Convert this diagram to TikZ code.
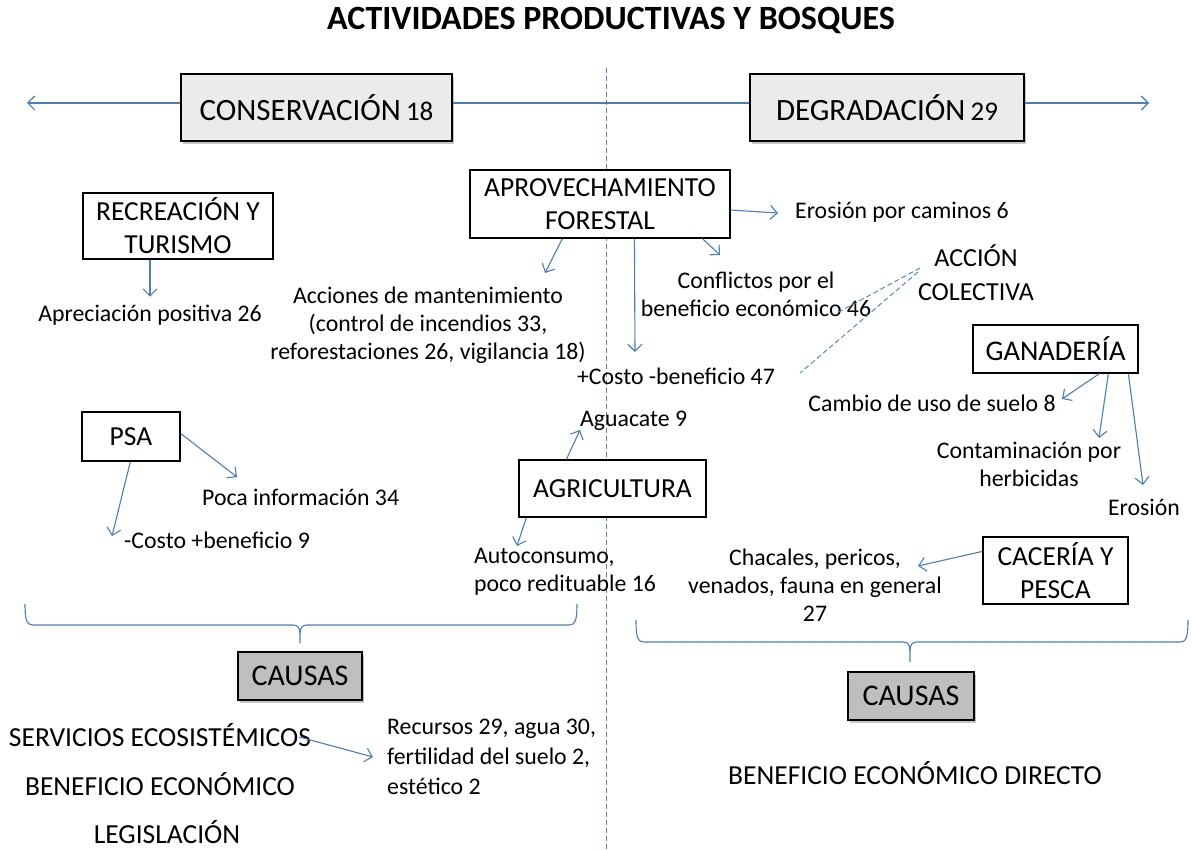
\documentclass[tikz,border=0pt]{standalone}
\usepackage{fontspec}
\setmainfont{Carlito}
\usetikzlibrary{arrows.meta,shadows,calc}
\definecolor{lblue}{HTML}{4A7EBB}
\definecolor{lgray}{HTML}{EBEBEB}
\definecolor{cgray}{HTML}{BFBFBF}
\newcommand\fbig{\fontsize{27.5}{33}\selectfont}
\newcommand\fsmall{\fontsize{23.8}{28}\selectfont}
\newcommand\fcaus{\fontsize{27.5}{30}\selectfont}
\tikzset{
  box/.style={draw=black, line width=1.2pt, fill=white, inner sep=2pt, align=center, font=\fbig},
  topbox/.style={box, fill=lgray, font=\fontsize{31}{34}\selectfont, drop shadow={shadow xshift=2pt, shadow yshift=-3pt, opacity=0.45}},
  causebox/.style={box, fill=cgray, font=\fontsize{30}{34}\selectfont, drop shadow={shadow xshift=2pt, shadow yshift=-3pt, opacity=0.45}},
  lbl/.style={align=center, font=\fsmall, inner sep=0pt},
  arr/.style={draw=lblue, line width=1.1pt, -{Straight Barb[length=7pt,width=14pt,line width=1.1pt]}},
  conn/.style={draw=lblue, line width=1.1pt},
  dconn/.style={draw=lblue, line width=0.9pt, dash pattern=on 5pt off 3pt},
}
\begin{document}
\begin{tikzpicture}[x=1pt,y=-1pt]
\useasboundingbox (0,0) rectangle (1192,850);
\fill[white] (0,0) rectangle (1192,850);
% vertical dashed separator
\coordinate (vtop) at (606,68);
\coordinate (vbot) at (606,850);
\draw[dconn, line width=0.8pt] (vtop) -- (vbot);
% title
\node[font=\bfseries\fontsize{34}{38}\selectfont, inner sep=0pt] (title) at (611,20) {ACTIVIDADES PRODUCTIVAS Y BOSQUES};
% top axis
\node[topbox, minimum width=271pt, minimum height=67pt] (cons) at (316.5,107.5) {CONSERVACIÓN\,{\fontsize{27}{30}\selectfont 18}};
\node[topbox, minimum width=274pt, minimum height=67pt] (degr) at (887,107.5) {DEGRADACIÓN\,{\fontsize{27}{30}\selectfont 29}};
\coordinate (axl) at (27,103);
\coordinate (axr) at (1149,103);
\draw[arr] (cons.west |- axl) -- (axl);
\draw[conn] (cons.east |- axl) -- (degr.west |- axl);
\draw[arr] (degr.east |- axr) -- (axr);
% boxes
\node[box, minimum width=260pt, minimum height=68pt] (aprov) at (600,204) {APROVECHAMIENTO\\FORESTAL};
\node[box, minimum width=190pt, minimum height=66pt] (rec) at (178,226) {RECREACIÓN Y\\TURISMO};
\node[box, minimum width=165pt, minimum height=48pt, font=\fontsize{28.5}{30}\selectfont] (gan) at (1055.5,349) {GANADERÍA};
\node[box, minimum width=145pt, minimum height=67pt] (caz) at (1055.5,570.5) {CACERÍA Y\\PESCA};
\node[box, minimum width=98pt, minimum height=49pt] (psa) at (131,436.5) {PSA};
\node[box, minimum width=187pt, minimum height=57pt] (agri) at (612.5,488.5) {AGRICULTURA};
% labels
\node[lbl] (apre) at (150,315) {Apreciación positiva 26};
\node[lbl] (acc) at (428,325) {Acciones de mantenimiento\\(control de incendios 33,\\reforestaciones 26, vigilancia 18)};
\node[lbl] (cost47) at (676,376) {+Costo -beneficio 47};
\node[lbl] (confl) at (756,294) {Conflictos por el\\beneficio económico 46};
\node[lbl, anchor=west] (eroc) at (795,212) {Erosión por caminos 6};
\node[align=center, font=\fontsize{26}{34}\selectfont, inner sep=0pt] (accol) at (976,273) {ACCIÓN\\COLECTIVA};
\node[lbl, anchor=east] (cambio) at (1056,403) {Cambio de uso de suelo 8};
\node[lbl] (contam) at (1029,464) {Contaminación por\\herbicidas};
\node[lbl] (eros) at (1144,507) {Erosión};
\node[lbl] (chac) at (815,585) {Chacales, pericos,\\venados, fauna en general\\27};
\node[lbl, anchor=west] (poca) at (202,497) {Poca información 34};
\node[lbl, anchor=west] (mcost) at (124,540) {-Costo +beneficio 9};
\node[lbl, anchor=west] (agua) at (580,421) {Aguacate 9};
\node[lbl, align=left, anchor=west] (auto) at (474,572) {Autoconsumo,\\poco redituable 16};
% arrows
\draw[arr] (rec.south -| apre.north) -- ($(apre.north)+(0,-8)$);
\coordinate (accend) at (545,273);
\draw[arr] ($(aprov.south west)+(93,0)$) -- (accend);
\coordinate (c47end) at (635,352);
\draw[arr] ($(aprov.south west)+(165,0)$) -- (c47end);
\coordinate (conflend) at (720,255);
\draw[arr] ($(aprov.south west)+(233,0)$) -- (conflend);
\coordinate (erocend) at (778,213);
\draw[arr] ($(aprov.east)+(0,6)$) -- (erocend);
\coordinate (acc1) at (920,268);
\coordinate (acc2) at (918,272);
\coordinate (d1) at (835,314);
\coordinate (d2) at (800,373);
\draw[dconn] (acc1) -- (d1);
\draw[dconn] (acc2) -- (d2);
\coordinate (g1) at (1062,399);
\coordinate (g2) at (1099,438);
\coordinate (g3) at (1143,485);
\draw[arr] ($(gan.south west)+(127,0)$) -- (g1);
\draw[arr] ($(gan.south west)+(136,0)$) -- (g2);
\draw[arr] ($(gan.south west)+(156,0)$) -- (g3);
\coordinate (chend) at (918,566);
\draw[arr] ($(caz.north west)+(0,15)$) -- (chend);
\coordinate (pocaend) at (237,477);
\coordinate (mcostend) at (112,536);
\draw[arr] ($(psa.north east)+(0,22)$) -- (pocaend);
\draw[arr] ($(psa.south west)+(49,0)$) -- (mcostend);
\coordinate (aguaend) at (580,430);
\coordinate (autoend) at (517,546);
\draw[arr] ($(agri.north west)+(48,0)$) -- (aguaend);
\draw[arr] ($(agri.south west)+(8,0)$) -- (autoend);
% braces
\coordinate (bl) at (300,643);
\draw[conn] (25,604) .. controls (25,621) and (27,625) .. (33,625) -- (293,625) .. controls (298,625) and (300,628) .. (300,634) -- (bl);
\draw[conn] (577,604) .. controls (577,621) and (575,625) .. (569,625) -- (307,625) .. controls (302,625) and (300,628) .. (300,634);
\coordinate (br) at (910,662);
\draw[conn] (636,620) .. controls (636,638) and (638,642) .. (644,642) -- (903,642) .. controls (908,642) and (910,645) .. (910,651) -- (br);
\draw[conn] (1188,620) .. controls (1188,638) and (1186,642) .. (1180,642) -- (917,642) .. controls (912,642) and (910,645) .. (910,651);
% causes
\node[causebox, minimum width=124pt, minimum height=48pt] (causL) at (300,676) {CAUSAS};
\node[causebox, minimum width=126pt, minimum height=48pt] (causR) at (911,696) {CAUSAS};
\node[font=\fcaus, inner sep=0pt] (serv) at (160,735) {SERVICIOS ECOSISTÉMICOS};
\node[font=\fcaus, inner sep=0pt] (benef) at (160,784) {BENEFICIO ECONÓMICO};
\node[font=\fcaus, inner sep=0pt] (legis) at (167,832) {LEGISLACIÓN};
\node[lbl, align=left, anchor=west, font=\fontsize{23.8}{30}\selectfont] (recur) at (387,757) {Recursos 29, agua 30,\\fertilidad del suelo 2,\\estético 2};
\node[font=\fcaus, inner sep=0pt] (bdir) at (915,773) {BENEFICIO ECONÓMICO DIRECTO};
\coordinate (recurend) at (373,757);
\draw[arr] ($(serv.east)+(-12,2)$) -- (recurend);
\end{tikzpicture}
\end{document}
